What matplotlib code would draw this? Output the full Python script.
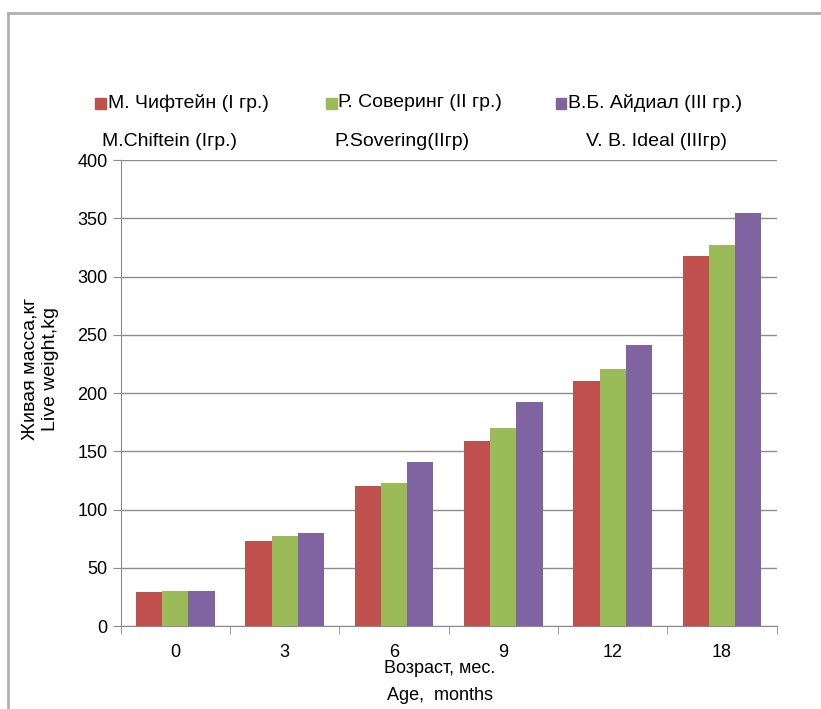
import numpy as np
import matplotlib
matplotlib.use('Agg')
import matplotlib.pyplot as plt
from matplotlib.lines import Line2D
from matplotlib.patches import Rectangle

plt.rcParams['font.family'] = ['Liberation Sans', 'DejaVu Sans']

# Data
ages = ['0', '3', '6', '9', '12', '18']
chiftein = [29, 73, 120, 159, 210, 318]
sovering = [30, 77, 123, 170, 221, 327]
ideal = [30, 80, 141, 192, 241, 355]

names_ru = ['М. Чифтейн (I гр.)', 'Р. Соверинг (II гр.)', 'В.Б. Айдиал (III гр.)']
names_en = ['M.Chiftein (Iгр.)', 'P.Sovering(IIгр)', 'V. B. Ideal (IIIгр)']
colors = ['#C0504D', '#9BBB59', '#8064A2']

fig = plt.figure(figsize=(8.21, 7.09), dpi=100)
ax = fig.add_axes([0.147, 0.117, 0.799, 0.657])

x = np.arange(len(ages))
w = 0.24
for i, vals in enumerate([chiftein, sovering, ideal]):
    ax.bar(x + (i - 1) * w, vals, width=w, color=colors[i], zorder=3)

ax.set_xlim(-0.5, len(ages) - 0.5)
ax.set_ylim(0, 400)
ax.set_yticks(range(0, 401, 50))
ax.yaxis.grid(True, color='#8c8c8c', linewidth=1, zorder=0)

ax.set_xticks(x)
ax.set_xticklabels(ages, fontsize=13)
ax.tick_params(axis='x', length=0, pad=13)
ax.set_xticks(np.arange(-0.5, len(ages)), minor=True)
ax.tick_params(axis='x', which='minor', length=6, color='#8c8c8c')
ax.tick_params(axis='y', length=6, color='#8c8c8c', labelsize=13)

for s in ['top', 'right']:
    ax.spines[s].set_visible(False)
for s in ['left', 'bottom']:
    ax.spines[s].set_color('#8c8c8c')

# axis titles (two lines each)
fig.text(0.037, 0.48, 'Живая масса,кг', rotation=90, ha='center', va='center', fontsize=14)
fig.text(0.061, 0.48, 'Live weight,kg', rotation=90, ha='center', va='center', fontsize=14)
fig.text(0.536, 0.057, 'Возраст, мес.', ha='center', va='center', fontsize=13)
fig.text(0.536, 0.019, 'Age,  months', ha='center', va='center', fontsize=13)

# legend, laid out by hand
leg_x = [0.117, 0.398, 0.678]
for xpos, c, t in zip(leg_x, colors, names_ru):
    fig.add_artist(Rectangle((xpos - 0.001, 0.846), 0.013, 0.016, color=c,
                             transform=fig.transFigure))
    fig.text(xpos + 0.014, 0.855, t, ha='left', va='center', fontsize=14)

for xpos, t in zip([0.206, 0.49, 0.8], names_en):
    fig.text(xpos, 0.8, t, ha='center', va='center', fontsize=14)

# outer frame (top and left edges)
fig.add_artist(Line2D([0.01, 1.0], [0.982, 0.982], color='#b0b0b0', linewidth=2))
fig.add_artist(Line2D([0.01, 0.01], [0.0, 0.982], color='#b0b0b0', linewidth=2))

fig.savefig('out.png', dpi=100)
